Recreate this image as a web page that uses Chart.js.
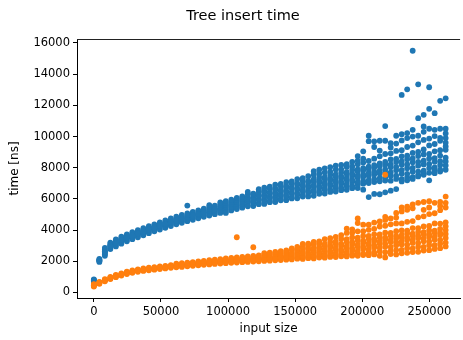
<!DOCTYPE html>
<html><head><meta charset="utf-8">
<script src="https://cdn.jsdelivr.net/npm/chart.js@4/dist/chart.umd.min.js"></script>
<style>html,body{margin:0;padding:0;background:#fff}canvas{display:block}</style>
</head><body>
<canvas id="c" width="463" height="340"></canvas>
<script>
const chartTitle = 'Tree insert time';
const xLabel = 'input size';
const yLabel = 'time [ns]';
const xTicks = [0, 50000, 100000, 150000, 200000, 250000];
const yTicks = [0, 2000, 4000, 6000, 8000, 10000, 12000, 14000, 16000];
const inputSizes = [0,4096,8192,12288,16384,20480,24576,28672,32768,36864,40960,45056,49152,53248,57344,61440,65536,69632,73728,77824,81920,86016,90112,94208,98304,102400,106496,110592,114688,118784,122880,126976,131072,135168,139264,143360,147456,151552,155648,159744,163840,167936,172032,176128,180224,184320,188416,192512,196608,200704,204800,208896,212992,217088,221184,225280,229376,233472,237568,241664,245760,249856,253952,258048,262144];

const blueTimes = [
[700,740,770,800,830,760],
[1960,2010,2060,2110,2160,2040],
[2350,2450,2550,2650,2750,2850,2600],
[2780,2870,2950,3030,3110,3200,3000],
[2950,3050,3130,3210,3290,3400,3180],
[3130,3230,3320,3400,3480,3580,3370],
[3280,3380,3470,3550,3630,3730,3520],
[3420,3520,3610,3690,3770,3870,3660],
[3540,3640,3730,3810,3890,3990,3780],
[3670,3770,3860,3940,4020,4120,3910],
[3800,3900,3990,4070,4150,4250,4040],
[3920,4020,4110,4190,4270,4370,4160],
[4030,4130,4230,4310,4390,4500,4280],
[4150,4250,4350,4430,4510,4620,4400],
[4260,4360,4460,4550,4640,4750,4520],
[4370,4470,4570,4660,4750,4860,4630],
[4470,4570,4670,4770,4860,4970,4740],
[4570,4670,4770,4870,4960,5070,5570],
[4660,4760,4860,4960,5060,5170,4940],
[4760,4860,4960,5060,5160,5270,5040],
[4850,4950,5050,5150,5250,5370,5140],
[4930,5040,5150,5250,5350,5470,5600],
[5020,5130,5240,5340,5440,5560,5320],
[5100,5210,5320,5420,5530,5650,5780],
[5180,5300,5410,5510,5620,5740,5100,5860],
[5260,5380,5500,5600,5710,5830,5950],
[5350,5470,5590,5700,5810,5930,6060],
[5440,5560,5680,5800,5910,6030,6160],
[5530,5610,5790,5860,6030,6110,6300,6450],
[5540,5730,5810,6000,6080,6260,6340,5900],
[5660,5750,5940,6010,6200,6290,6480,6620],
[5680,5870,5950,6150,6230,6420,6510,6720],
[5790,5880,6080,6160,6360,6440,6650,6790],
[5800,6000,6090,6290,6380,6580,6670,6920],
[5910,6010,6210,6300,6500,6590,6810,6960],
[5920,6120,6220,6430,6520,6730,6830,7080],
[6030,6130,6350,6450,6660,6760,6980,7130],
[6040,6250,6360,6580,6680,6900,7000,7270],
[6150,6260,6490,6590,6810,6910,7140,7330],
[6160,6380,6490,6720,6830,7050,7160,7460],
[6200,6450,6580,6790,6900,7120,7260,7550,7780],
[6330,6470,6700,6810,7040,7150,7380,7620,7880],
[6340,6580,6700,6930,7050,7280,7400,7700,7960],
[6450,6570,6820,6950,7180,7300,7540,7740,8040],
[6470,6690,6830,7070,7200,7420,7570,7880,8130],
[6560,6700,6950,7090,7320,7450,7690,7900,8180],
[6580,6810,6960,7210,7340,7590,7720,8050,8230],
[6690,6820,7080,7220,7470,7610,7860,8080,8380],
[6700,6930,7090,7350,7500,7750,7900,8230,8460,8750],
[6590,6980,7150,7420,7570,7830,7980,8330,8580,9050],
[6120,7020,7200,7480,7660,7920,8070,8430,9700,10050],
[6320,7080,7270,7560,7740,8010,8170,8580,9330,9690],
[6300,7130,7330,7630,7820,8100,8270,8730,9100,9730],
[6420,7180,7370,7690,7890,8190,8370,8880,9730,10670],
[6530,7170,7490,7700,8030,8220,8530,8920,9300,9580],
[6630,7280,7490,7830,8050,8370,8570,9080,9550,10050],
[7120,7270,7610,7840,8190,8400,8730,9120,9750,10150,12670],
[7190,7380,7610,7970,8210,8550,8770,9330,9900,10220,13030],
[7280,7390,7740,7990,8350,8590,8950,9420,10000,10430,15500],
[7440,7530,7750,8130,8370,8750,9020,9630,10050,11180,13350],
[7550,7630,7820,8210,8450,8850,9170,9780,10300,10650,11390],
[7190,7670,7980,8240,8590,8890,9430,9870,10500,11780,13160],
[7650,7830,8020,8390,8620,9050,9520,10030,10430,11500],
[7750,7870,8180,8420,8780,9120,9730,9920,10500,12290],
[7870,8150,8400,8640,9150,9360,9600,9900,10200,10500,12450]
];

const orangeTimes = [
[380,420,460,500,540,480],
[560,600,640,680,620],
[720,760,800,850,780],
[860,900,950,1000,930],
[980,1030,1080,1130,1060],
[1080,1130,1180,1230,1160],
[1180,1230,1280,1330,1260],
[1260,1310,1360,1410,1340],
[1330,1380,1430,1480,1410],
[1380,1430,1480,1540,1460],
[1420,1480,1530,1590,1500],
[1460,1520,1570,1630,1550],
[1500,1560,1610,1670,1590],
[1540,1600,1650,1710,1630],
[1580,1640,1690,1750,1670],
[1610,1670,1730,1790,1700,1850],
[1640,1700,1760,1820,1730,1880],
[1680,1740,1800,1860,1770,1920],
[1710,1770,1830,1890,1800,1950],
[1740,1800,1860,1920,1830,1990],
[1770,1830,1890,1960,1860,2030],
[1800,1860,1930,2000,1900,2070],
[1830,1890,1960,2030,1930,2100],
[1850,1920,1990,2060,1960,2140],
[1880,1950,2020,2100,1990,2180],
[1900,1980,2050,2130,2020,2220],
[1920,2000,2080,2160,2050,2250,3540],
[1940,2020,2100,2190,2070,2280],
[1960,2040,2130,2220,2100,2320],
[1980,2070,2160,2250,2120,2350,2900],
[2000,2090,2180,2280,2150,2380],
[2020,2110,2200,2300,2170,2420,2520],
[2040,2130,2230,2330,2200,2450,2560],
[2060,2150,2250,2360,2220,2480,2600],
[2080,2170,2280,2390,2250,2520,2650],
[2100,2200,2300,2420,2280,2560,2700],
[2120,2250,2310,2480,2560,2750,2830],
[2170,2220,2390,2460,2650,2740,2920],
[2150,2290,2360,2540,2630,2830,2930,3120],
[2200,2260,2430,2520,2720,2820,3030,3130],
[2180,2330,2410,2600,2700,2860,3080,3240],
[2240,2310,2490,2580,2790,2900,3130,3280],
[2230,2380,2470,2670,2780,2990,3120,3420],
[2280,2360,2550,2650,2880,3000,3230,3480],
[2270,2430,2530,2750,2870,3110,3270,3570],
[2320,2410,2610,2730,2980,3120,3430,3680],
[2310,2470,2600,2830,2970,3230,3420,3820,4100],
[2360,2450,2680,2820,3080,3220,3530,3830,4050],
[2350,2510,2670,2930,3070,3330,3520,3920,4450,4750],
[2400,2490,2780,2920,3180,3320,3630,3930,4350],
[2390,2580,2770,3030,3170,3430,3620,4020,4350],
[2440,2570,2880,3020,3280,3420,3730,4080,4480],
[2350,2630,2870,3130,3270,3530,3720,4230,4550],
[2250,2580,2930,3120,3380,3520,3830,4280,4650,4850,7550],
[2460,2670,2920,3230,3370,3630,3820,4370,4750],
[2440,2720,3030,3220,3480,3620,3930,4430,4800,5100],
[2510,2730,3080,3270,3530,3680,3980,4430,5200,5450],
[2540,2830,3070,3380,3520,3780,3970,4530,5300,5500],
[2590,2830,3180,3370,3630,3770,4130,4580,5400,5650],
[2610,2930,3170,3480,3620,3880,4120,4820,5750],
[2690,2930,3280,3470,3730,3870,4230,4880,5300,5800],
[2710,3030,3270,3580,3720,3980,4270,5030,5450,5850],
[2790,3030,3380,3570,3830,3970,4430,5080,5750],
[2840,3130,3370,3680,3820,4080,4420,5280,5550,5800],
[2950,3200,3500,3750,4000,4250,4500,5450,5750,6150]
];

function toPoints(sizes, lists) {
  const pts = [];
  lists.forEach((vals, i) => vals.forEach(v => pts.push({x: sizes[i], y: v})));
  return pts;
}

const FONT = 'DejaVu Sans';

const decor = {
  id: 'decor',
  afterDraw(chart) {
    const {ctx, chartArea: a} = chart;
    ctx.save();
    ctx.strokeStyle = '#222';
    ctx.lineWidth = 1;
    ctx.beginPath();
    ctx.moveTo(a.left, a.top + 0.5);
    ctx.lineTo(a.right, a.top + 0.5);
    ctx.stroke();
    ctx.fillStyle = '#000';
    ctx.font = '14.5px "' + FONT + '"';
    ctx.textAlign = 'center';
    ctx.textBaseline = 'middle';
    ctx.fillText(chartTitle, 243, 16);
    ctx.restore();
  }
};

new Chart(document.getElementById('c'), {
  type: 'scatter',
  data: {
    datasets: [
      {label: 'blue', data: toPoints(inputSizes, blueTimes), backgroundColor: '#1f77b4', borderWidth: 0, pointRadius: 2.9, pointHoverRadius: 2.9, order: 1},
      {label: 'orange', data: toPoints(inputSizes, orangeTimes), backgroundColor: '#ff7f0e', borderWidth: 0, pointRadius: 2.9, pointHoverRadius: 2.9, order: 0}
    ]
  },
  options: {
    responsive: false,
    animation: false,
    devicePixelRatio: 1,
    layout: {padding: {top: 39, left: 0, right: 0, bottom: 0}},
    plugins: {legend: {display: false}, tooltip: {enabled: false}, title: {display: false}},
    scales: {
      x: {
        type: 'linear', min: -12575, max: 272900,
        afterBuildTicks: s => { s.ticks = xTicks.map(v => ({value: v})); },
        afterFit: s => { s.height = 42; },
        ticks: {callback: v => String(v), color: '#000', font: {family: FONT, size: 11.5}, padding: 3, maxRotation: 0, autoSkip: false},
        grid: {drawOnChartArea: false, drawTicks: true, tickLength: 4, tickColor: '#000', tickWidth: 1},
        border: {display: true, color: '#000', width: 1},
        title: {display: true, text: xLabel, color: '#000', font: {family: FONT, size: 12}, padding: {top: 2, bottom: 4}}
      },
      y: {
        type: 'linear', min: -355, max: 16255,
        afterBuildTicks: s => { s.ticks = yTicks.map(v => ({value: v})); },
        afterFit: s => { s.width = 77; },
        ticks: {callback: v => String(v), color: '#000', font: {family: FONT, size: 11.5}, padding: 3, autoSkip: false},
        grid: {drawOnChartArea: false, drawTicks: true, tickLength: 4, tickColor: '#000', tickWidth: 1},
        border: {display: true, color: '#000', width: 1},
        title: {display: true, text: yLabel, color: '#000', font: {family: FONT, size: 12}, padding: {top: 8, bottom: 2}}
      }
    }
  },
  plugins: [decor]
});
</script>
</body></html>
